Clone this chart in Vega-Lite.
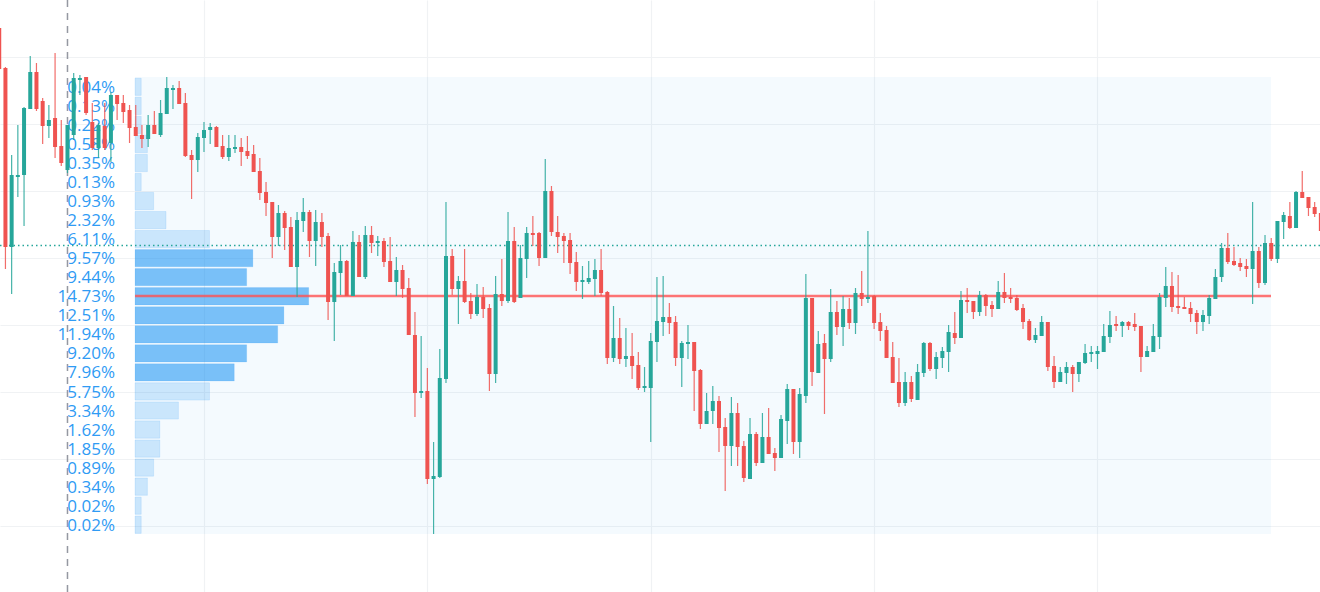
{"$schema":"https://vega.github.io/schema/vega-lite/v6.json","width":1320,"height":592,"padding":0,"autosize":{"type":"none"},"background":"#ffffff","config":{"view":{"stroke":null}},
"datasets":{"candles":[
{"t":0,"o":564,"h":564,"l":523,"c":523},{"t":1,"o":524,"h":525,"l":323,"c":345},{"t":2,"o":345,"h":437,"l":298,"c":417},{"t":3,"o":415,"h":467,"l":395,"c":417},{"t":4,"o":417,"h":485,"l":366,"c":484},{"t":5,"o":483,"h":536,"l":483,"c":520},{"t":6,"o":520,"h":529,"l":481,"c":483},{"t":7,"o":491,"h":494,"l":448,"c":466},{"t":8,"o":466,"h":487,"l":454,"c":472},{"t":9,"o":474,"h":539,"l":434,"c":445},
{"t":10,"o":446,"h":472,"l":426,"c":429},{"t":11,"o":422,"h":467,"l":419,"c":467},{"t":12,"o":457,"h":519,"l":452,"c":514},{"t":13,"o":512,"h":517,"l":497,"c":514},{"t":14,"o":515,"h":515,"l":477,"c":479},{"t":15,"o":470,"h":489,"l":442,"c":444},{"t":16,"o":444,"h":469,"l":434,"c":467},{"t":17,"o":466,"h":489,"l":442,"c":444},{"t":18,"o":449,"h":500,"l":430,"c":497},{"t":19,"o":497,"h":497,"l":472,"c":488},
{"t":20,"o":489,"h":497,"l":469,"c":480},{"t":21,"o":482,"h":487,"l":449,"c":464},{"t":22,"o":465,"h":487,"l":456,"c":456},{"t":23,"o":457,"h":467,"l":444,"c":453},{"t":24,"o":453,"h":477,"l":445,"c":467},{"t":25,"o":467,"h":481,"l":458,"c":458},{"t":26,"o":457,"h":492,"l":455,"c":479},{"t":27,"o":478,"h":515,"l":478,"c":504},{"t":28,"o":502,"h":507,"l":483,"c":504},{"t":29,"o":504,"h":511,"l":488,"c":488},
{"t":30,"o":489,"h":499,"l":435,"c":436},{"t":31,"o":437,"h":442,"l":393,"c":432},{"t":32,"o":432,"h":459,"l":420,"c":455},{"t":33,"o":454,"h":470,"l":440,"c":462},{"t":34,"o":462,"h":469,"l":448,"c":465},{"t":35,"o":465,"h":466,"l":445,"c":445},{"t":36,"o":446,"h":457,"l":433,"c":435},{"t":37,"o":435,"h":457,"l":431,"c":444},{"t":38,"o":443,"h":457,"l":439,"c":445},{"t":39,"o":445,"h":454,"l":426,"c":440},
{"t":40,"o":441,"h":456,"l":433,"c":436},{"t":41,"o":438,"h":447,"l":420,"c":420},{"t":42,"o":421,"h":434,"l":392,"c":399},{"t":43,"o":400,"h":410,"l":376,"c":389},{"t":44,"o":390,"h":390,"l":334,"c":355},{"t":45,"o":355,"h":387,"l":346,"c":379},{"t":46,"o":379,"h":381,"l":342,"c":364},{"t":47,"o":365,"h":375,"l":325,"c":325},{"t":48,"o":325,"h":380,"l":295,"c":372},{"t":49,"o":371,"h":394,"l":360,"c":380},
{"t":50,"o":380,"h":382,"l":335,"c":351},{"t":51,"o":351,"h":382,"l":326,"c":370},{"t":52,"o":370,"h":379,"l":345,"c":355},{"t":53,"o":356,"h":359,"l":272,"c":290},{"t":54,"o":290,"h":329,"l":251,"c":320},{"t":55,"o":319,"h":347,"l":297,"c":331},{"t":56,"o":331,"h":332,"l":296,"c":296},{"t":57,"o":296,"h":361,"l":296,"c":350},{"t":58,"o":350,"h":357,"l":315,"c":315},{"t":59,"o":315,"h":366,"l":313,"c":357},
{"t":60,"o":357,"h":366,"l":339,"c":349},{"t":61,"o":349,"h":356,"l":336,"c":351},{"t":62,"o":351,"h":354,"l":325,"c":330},{"t":63,"o":331,"h":355,"l":310,"c":310},{"t":64,"o":310,"h":335,"l":296,"c":322},{"t":65,"o":322,"h":327,"l":294,"c":303},{"t":66,"o":304,"h":314,"l":257,"c":257},{"t":67,"o":257,"h":280,"l":175,"c":199},{"t":68,"o":199,"h":256,"l":194,"c":201},{"t":69,"o":201,"h":224,"l":108,"c":113},
{"t":70,"o":113,"h":150,"l":58,"c":116},{"t":71,"o":115,"h":243,"l":114,"c":214},{"t":72,"o":213,"h":390,"l":209,"c":336},{"t":73,"o":336,"h":343,"l":297,"c":303},{"t":74,"o":303,"h":316,"l":268,"c":311},{"t":75,"o":311,"h":343,"l":289,"c":290},{"t":76,"o":291,"h":299,"l":273,"c":278},{"t":77,"o":278,"h":308,"l":276,"c":295},{"t":78,"o":295,"h":305,"l":274,"c":283},{"t":79,"o":284,"h":288,"l":201,"c":218},
{"t":80,"o":218,"h":316,"l":209,"c":298},{"t":81,"o":298,"h":333,"l":286,"c":291},{"t":82,"o":291,"h":380,"l":289,"c":351},{"t":83,"o":351,"h":365,"l":289,"c":290},{"t":84,"o":294,"h":347,"l":294,"c":334},{"t":85,"o":333,"h":365,"l":314,"c":359},{"t":86,"o":359,"h":376,"l":346,"c":357},{"t":87,"o":359,"h":360,"l":326,"c":334},{"t":88,"o":334,"h":433,"l":334,"c":401},{"t":89,"o":401,"h":406,"l":356,"c":360},
{"t":90,"o":360,"h":376,"l":339,"c":355},{"t":91,"o":356,"h":359,"l":329,"c":351},{"t":92,"o":352,"h":359,"l":318,"c":329},{"t":93,"o":330,"h":340,"l":301,"c":310},{"t":94,"o":310,"h":326,"l":293,"c":312},{"t":95,"o":310,"h":331,"l":308,"c":314},{"t":96,"o":313,"h":333,"l":296,"c":322},{"t":97,"o":322,"h":343,"l":296,"c":299},{"t":98,"o":300,"h":301,"l":228,"c":234},{"t":99,"o":234,"h":286,"l":230,"c":254},
{"t":100,"o":254,"h":274,"l":228,"c":233},{"t":101,"o":233,"h":264,"l":225,"c":236},{"t":102,"o":236,"h":259,"l":213,"c":226},{"t":103,"o":227,"h":240,"l":202,"c":204},{"t":104,"o":204,"h":225,"l":200,"c":206},{"t":105,"o":204,"h":259,"l":150,"c":251},{"t":106,"o":250,"h":315,"l":230,"c":271},{"t":107,"o":270,"h":316,"l":256,"c":275},{"t":108,"o":275,"h":289,"l":258,"c":269},{"t":109,"o":270,"h":276,"l":226,"c":234},
{"t":110,"o":234,"h":251,"l":205,"c":249},{"t":111,"o":248,"h":267,"l":233,"c":250},{"t":112,"o":250,"h":250,"l":181,"c":221},{"t":113,"o":222,"h":223,"l":163,"c":168},{"t":114,"o":168,"h":199,"l":168,"c":181},{"t":115,"o":181,"h":206,"l":168,"c":191},{"t":116,"o":191,"h":196,"l":140,"c":164},{"t":117,"o":165,"h":174,"l":101,"c":146},{"t":118,"o":146,"h":195,"l":126,"c":179},{"t":119,"o":179,"h":189,"l":126,"c":145},
{"t":120,"o":146,"h":151,"l":110,"c":114},{"t":121,"o":113,"h":174,"l":113,"c":158},{"t":122,"o":158,"h":160,"l":126,"c":129},{"t":123,"o":129,"h":179,"l":129,"c":155},{"t":124,"o":155,"h":184,"l":138,"c":138},{"t":125,"o":139,"h":144,"l":121,"c":134},{"t":126,"o":134,"h":177,"l":134,"c":173},{"t":127,"o":171,"h":208,"l":148,"c":203},{"t":128,"o":203,"h":203,"l":138,"c":150},{"t":129,"o":150,"h":204,"l":134,"c":198},
{"t":130,"o":196,"h":318,"l":189,"c":294},{"t":131,"o":294,"h":294,"l":206,"c":220},{"t":132,"o":219,"h":261,"l":219,"c":248},{"t":133,"o":249,"h":258,"l":178,"c":233},{"t":134,"o":233,"h":303,"l":230,"c":280},{"t":135,"o":280,"h":291,"l":257,"c":265},{"t":136,"o":265,"h":296,"l":246,"c":283},{"t":137,"o":283,"h":294,"l":263,"c":269},{"t":138,"o":269,"h":304,"l":258,"c":299},{"t":139,"o":299,"h":321,"l":286,"c":293},
{"t":140,"o":293,"h":361,"l":289,"c":295},{"t":141,"o":296,"h":297,"l":263,"c":269},{"t":142,"o":270,"h":279,"l":251,"c":261},{"t":143,"o":262,"h":266,"l":234,"c":234},{"t":144,"o":235,"h":250,"l":209,"c":209},{"t":145,"o":210,"h":234,"l":185,"c":189},{"t":146,"o":189,"h":220,"l":186,"c":210},{"t":147,"o":210,"h":216,"l":190,"c":193},{"t":148,"o":192,"h":228,"l":192,"c":220},{"t":149,"o":219,"h":250,"l":215,"c":249},
{"t":150,"o":249,"h":250,"l":221,"c":223},{"t":151,"o":223,"h":240,"l":213,"c":235},{"t":152,"o":234,"h":245,"l":224,"c":241},{"t":153,"o":240,"h":267,"l":220,"c":260},{"t":154,"o":259,"h":280,"l":248,"c":254},{"t":155,"o":254,"h":301,"l":254,"c":292},{"t":156,"o":292,"h":304,"l":279,"c":290},{"t":157,"o":291,"h":291,"l":273,"c":280},{"t":158,"o":280,"h":301,"l":276,"c":297},{"t":159,"o":297,"h":298,"l":276,"c":286},
{"t":160,"o":287,"h":291,"l":275,"c":283},{"t":161,"o":283,"h":311,"l":283,"c":300},{"t":162,"o":300,"h":319,"l":289,"c":294},{"t":163,"o":295,"h":304,"l":289,"c":293},{"t":164,"o":294,"h":297,"l":281,"c":282},{"t":165,"o":284,"h":288,"l":263,"c":270},{"t":166,"o":271,"h":273,"l":251,"c":252},{"t":167,"o":252,"h":264,"l":249,"c":257},{"t":168,"o":256,"h":276,"l":256,"c":270},{"t":169,"o":270,"h":270,"l":221,"c":225},
{"t":170,"o":226,"h":236,"l":204,"c":210},{"t":171,"o":210,"h":225,"l":210,"c":220},{"t":172,"o":219,"h":230,"l":208,"c":225},{"t":173,"o":225,"h":227,"l":200,"c":218},{"t":174,"o":218,"h":230,"l":210,"c":230},{"t":175,"o":229,"h":248,"l":228,"c":239},{"t":176,"o":238,"h":246,"l":230,"c":240},{"t":177,"o":238,"h":246,"l":223,"c":241},{"t":178,"o":240,"h":268,"l":240,"c":256},{"t":179,"o":255,"h":281,"l":249,"c":267},
{"t":180,"o":268,"h":276,"l":261,"c":266},{"t":181,"o":266,"h":271,"l":255,"c":270},{"t":182,"o":270,"h":271,"l":262,"c":266},{"t":183,"o":268,"h":279,"l":261,"c":265},{"t":184,"o":266,"h":266,"l":220,"c":235},{"t":185,"o":235,"h":246,"l":235,"c":241},{"t":186,"o":240,"h":268,"l":240,"c":256},{"t":187,"o":255,"h":299,"l":243,"c":295},{"t":188,"o":294,"h":325,"l":285,"c":306},{"t":189,"o":306,"h":320,"l":280,"c":285},
{"t":190,"o":286,"h":317,"l":278,"c":284},{"t":191,"o":285,"h":295,"l":283,"c":283},{"t":192,"o":284,"h":290,"l":270,"c":278},{"t":193,"o":279,"h":282,"l":258,"c":270},{"t":194,"o":270,"h":282,"l":261,"c":277},{"t":195,"o":276,"h":297,"l":268,"c":294},{"t":196,"o":293,"h":323,"l":293,"c":315},{"t":197,"o":315,"h":349,"l":310,"c":344},{"t":198,"o":344,"h":359,"l":328,"c":330},{"t":199,"o":331,"h":345,"l":326,"c":327},
{"t":200,"o":329,"h":334,"l":321,"c":325},{"t":201,"o":326,"h":333,"l":315,"c":323},{"t":202,"o":323,"h":390,"l":288,"c":341},{"t":203,"o":341,"h":345,"l":304,"c":309},{"t":204,"o":309,"h":357,"l":307,"c":349},{"t":205,"o":349,"h":354,"l":331,"c":333},{"t":206,"o":333,"h":371,"l":329,"c":371},{"t":207,"o":370,"h":380,"l":353,"c":377},{"t":208,"o":376,"h":390,"l":363,"c":364},{"t":209,"o":364,"h":401,"l":364,"c":400},
{"t":210,"o":400,"h":421,"l":394,"c":394},{"t":211,"o":395,"h":395,"l":376,"c":384},{"t":212,"o":385,"h":390,"l":375,"c":378},{"t":213,"o":379,"h":379,"l":361,"c":361}
],
"profile":[
{"p":"0.04%","v":false,"x0":21.88,"x1":22.88,"hi":513.8,"lo":496.6,"m":505.2},
{"p":"0.13%","v":false,"x0":21.88,"x1":22.88,"hi":494.8,"lo":477.5,"m":486.1},
{"p":"0.22%","v":false,"x0":21.88,"x1":22.88,"hi":475.7,"lo":458.5,"m":467.1},
{"p":"0.58%","v":false,"x0":21.88,"x1":23.88,"hi":456.7,"lo":439.4,"m":448.1},
{"p":"0.35%","v":false,"x0":21.88,"x1":23.88,"hi":437.6,"lo":420.4,"m":429.0},
{"p":"0.13%","v":false,"x0":21.88,"x1":22.88,"hi":418.6,"lo":401.4,"m":410.0},
{"p":"0.93%","v":false,"x0":21.88,"x1":24.88,"hi":399.6,"lo":382.3,"m":390.9},
{"p":"2.32%","v":false,"x0":21.88,"x1":26.88,"hi":380.5,"lo":363.3,"m":371.9},
{"p":"6.11%","v":false,"x0":21.88,"x1":33.88,"hi":361.5,"lo":344.2,"m":352.9},
{"p":"9.57%","v":true,"x0":21.88,"x1":40.88,"hi":342.4,"lo":325.2,"m":333.8},
{"p":"9.44%","v":true,"x0":21.88,"x1":39.88,"hi":323.4,"lo":306.2,"m":314.8},
{"p":"14.73%","v":true,"x0":21.88,"x1":49.88,"hi":304.4,"lo":287.1,"m":295.7},
{"p":"12.51%","v":true,"x0":21.88,"x1":45.88,"hi":285.3,"lo":268.1,"m":276.7},
{"p":"11.94%","v":true,"x0":21.88,"x1":44.88,"hi":266.3,"lo":249.0,"m":257.7},
{"p":"9.20%","v":true,"x0":21.88,"x1":39.88,"hi":247.2,"lo":230.0,"m":238.6},
{"p":"7.96%","v":true,"x0":21.88,"x1":37.88,"hi":228.2,"lo":211.0,"m":219.6},
{"p":"5.75%","v":false,"x0":21.88,"x1":33.88,"hi":209.2,"lo":191.9,"m":200.5},
{"p":"3.34%","v":false,"x0":21.88,"x1":28.88,"hi":190.1,"lo":172.9,"m":181.5},
{"p":"1.62%","v":false,"x0":21.88,"x1":25.88,"hi":171.1,"lo":153.8,"m":162.5},
{"p":"1.85%","v":false,"x0":21.88,"x1":25.88,"hi":152.0,"lo":134.8,"m":143.4},
{"p":"0.89%","v":false,"x0":21.88,"x1":24.88,"hi":133.0,"lo":115.8,"m":124.4},
{"p":"0.34%","v":false,"x0":21.88,"x1":23.88,"hi":114.0,"lo":96.7,"m":105.3},
{"p":"0.02%","v":false,"x0":21.88,"x1":22.88,"hi":94.9,"lo":77.7,"m":86.3},
{"p":"0.02%","v":false,"x0":21.88,"x1":22.88,"hi":75.9,"lo":58.6,"m":67.3}
],
"zone":[{"a":21.88,"b":204.96,"top":515,"bot":58,"poc":296,"last":346.5,"cross":11}]},
"layer":[
{"data":{"name":"zone"},"mark":{"type":"rect","fill":"#2196f3","fillOpacity":0.05},
"encoding":{"x":{"field":"a","type":"quantitative","scale":{"domain":[0.124,212.86],"nice":false,"zero":false,"padding":0},"axis":{"values":[33,69,105,141,177],"grid":true,"gridColor":"#f0f2f4","gridWidth":1.2,"labels":false,"ticks":false,"domain":false,"title":null}},"x2":{"field":"b"},
"y":{"field":"top","type":"quantitative","scale":{"domain":[0,592],"nice":false,"zero":false,"padding":0},"axis":{"values":[66,133,200,267,334,401,468,535],"grid":true,"gridColor":"#f0f2f4","gridWidth":1.2,"labels":false,"ticks":false,"domain":false,"title":null}},"y2":{"field":"bot"}}},
{"data":{"name":"zone"},"mark":{"type":"rule","color":"#9598a1","strokeWidth":1.5,"strokeDash":[7,6]},"encoding":{"x":{"field":"cross","type":"quantitative"}}},
{"data":{"name":"profile"},"mark":{"type":"rect","fill":"#2196f3","stroke":"#2196f3","strokeWidth":1,"strokeOpacity":0.12},
"encoding":{"x":{"field":"x0","type":"quantitative"},"x2":{"field":"x1"},"y":{"field":"hi","type":"quantitative"},"y2":{"field":"lo"},"fillOpacity":{"condition":{"test":"datum.v","value":0.58},"value":0.2}}},
{"data":{"name":"profile"},"mark":{"type":"text","align":"right","baseline":"middle","font":"Open Sans","fontSize":17,"color":"#2f9bf4","dy":1},
"encoding":{"x":{"datum":18.66,"type":"quantitative"},"y":{"field":"m","type":"quantitative"},"text":{"field":"p"}}},
{"data":{"name":"zone"},"mark":{"type":"rule","color":"#26a69a","strokeWidth":1.5,"strokeDash":[1.5,3]},"encoding":{"y":{"field":"last","type":"quantitative"}}},
{"data":{"name":"zone"},"mark":{"type":"rule","color":"#ff5252","strokeWidth":4,"opacity":0.2},"encoding":{"x":{"field":"a","type":"quantitative"},"x2":{"field":"b"},"y":{"field":"poc","type":"quantitative"}}},
{"data":{"name":"zone"},"mark":{"type":"rule","color":"#ff5252","strokeWidth":1.5},"encoding":{"x":{"field":"a","type":"quantitative"},"x2":{"field":"b"},"y":{"field":"poc","type":"quantitative"}}},
{"data":{"name":"candles"},"mark":{"type":"rule","strokeWidth":1.2,"opacity":0.85,"clip":true},
"encoding":{"x":{"field":"t","type":"quantitative"},"y":{"field":"h","type":"quantitative"},"y2":{"field":"l"},"color":{"condition":{"test":"datum.c>=datum.o","value":"#26a69a"},"value":"#ef5350"}}},
{"data":{"name":"candles"},"mark":{"type":"bar","orient":"vertical","size":4,"clip":true},
"encoding":{"x":{"field":"t","type":"quantitative"},"y":{"field":"o","type":"quantitative"},"y2":{"field":"c"},"color":{"condition":{"test":"datum.c>=datum.o","value":"#26a69a"},"value":"#ef5350"}}}
]}
